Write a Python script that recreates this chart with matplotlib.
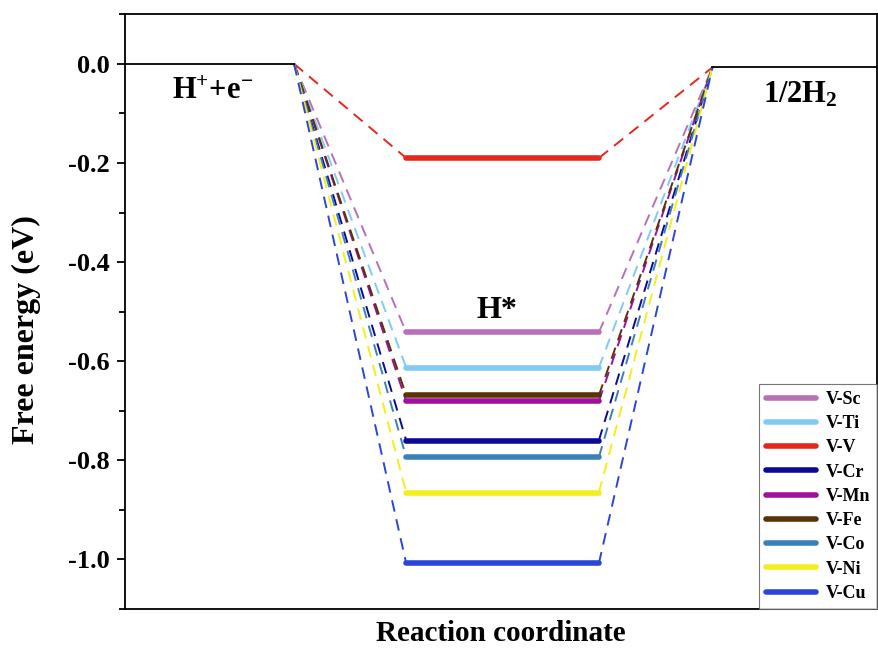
import matplotlib
matplotlib.use("Agg")
import matplotlib.pyplot as plt
from matplotlib.ticker import MultipleLocator

plt.rcParams['font.family'] = ['Liberation Serif', 'DejaVu Serif']
plt.rcParams['font.weight'] = 'bold'
plt.rcParams['mathtext.fontset'] = 'custom'
plt.rcParams['mathtext.rm'] = 'Liberation Serif:bold'
plt.rcParams['mathtext.bf'] = 'Liberation Serif:bold'
plt.rcParams['mathtext.it'] = 'Liberation Serif:bold'
plt.rcParams['mathtext.default'] = 'bf'

# energies (eV)
systems = ['V-Sc', 'V-Ti', 'V-V', 'V-Cr', 'V-Mn', 'V-Fe', 'V-Co', 'V-Ni', 'V-Cu']
dG_H = [-0.542, -0.613, -0.190, -0.760, -0.681, -0.669, -0.794, -0.865, -1.008]
colors = ['#b870b8', '#80cbf5', '#e8261a', '#0a0a98', '#a0109c', '#5a3208',
          '#3b80b6', '#f4ee1c', '#2a46d8']
E_start = 0.0
E_end = -0.007

# x extents of each level
x_start = [0.0, 2.25]
x_mid = [3.74, 6.30]
x_end = [7.81, 10.0]

fig, ax = plt.subplots(figsize=(8.79, 6.5), dpi=100)
fig.subplots_adjust(left=0.142, right=0.998, top=0.978, bottom=0.063)

ax.plot(x_start, [E_start, E_start], color='black', lw=1.3, zorder=3)
ax.plot(x_end, [E_end, E_end], color='black', lw=1.3, zorder=3)

for name, g, c in zip(systems, dG_H, colors):
    ax.plot([x_start[1], x_mid[0]], [E_start, g], color=c, lw=1.4,
            ls=(0, (6, 4)), zorder=2)
    ax.plot([x_mid[1], x_end[0]], [g, E_end], color=c, lw=1.4,
            ls=(0, (6, 4)), zorder=2)
    ax.plot(x_mid, [g, g], color=c, lw=4, solid_capstyle='round',
            label=name, zorder=4)

ax.text(1.17, -0.056, 'H$^{+}$+e$^{-}$', fontsize=22,
        ha='center', va='center', fontweight='bold')
ax.text(8.98, -0.062, '1/2H$_{2}$', fontsize=22,
        ha='center', va='center', fontweight='bold')
ax.text(4.95, -0.498, 'H*', fontsize=23, ha='center', va='center',
        fontweight='bold')

ax.set_xlim(0, 10)
ax.set_ylim(-1.1, 0.1)
ax.yaxis.set_major_locator(MultipleLocator(0.2))
ax.yaxis.set_minor_locator(MultipleLocator(0.1))
ax.set_yticks([0.0, -0.2, -0.4, -0.6, -0.8, -1.0])
ax.set_yticklabels(['0.0', '-0.2', '-0.4', '-0.6', '-0.8', '-1.0'])
ax.set_xticks([])
ax.tick_params(axis='y', which='major', direction='out', length=6, width=1.3,
               labelsize=19, pad=5)
ax.tick_params(axis='y', which='minor', direction='out', length=4, width=1.3)
for s in ax.spines.values():
    s.set_linewidth(1.3)

ax.set_ylabel('Free energy (eV)', fontsize=23, fontweight='bold')
ax.yaxis.set_label_coords(-0.111, 0.47)
ax.set_xlabel('Reaction coordinate', fontsize=21, fontweight='bold', labelpad=8)

leg = ax.legend(loc='lower right', frameon=True, fancybox=False,
                borderaxespad=0, handlelength=2.8, labelspacing=0.4,
                handletextpad=0.5, borderpad=0.4,
                prop={'weight': 'bold', 'size': 13})
leg.get_frame().set_edgecolor('#555555')
leg.get_frame().set_linewidth(0.8)

fig.savefig('out.png', dpi=100)
